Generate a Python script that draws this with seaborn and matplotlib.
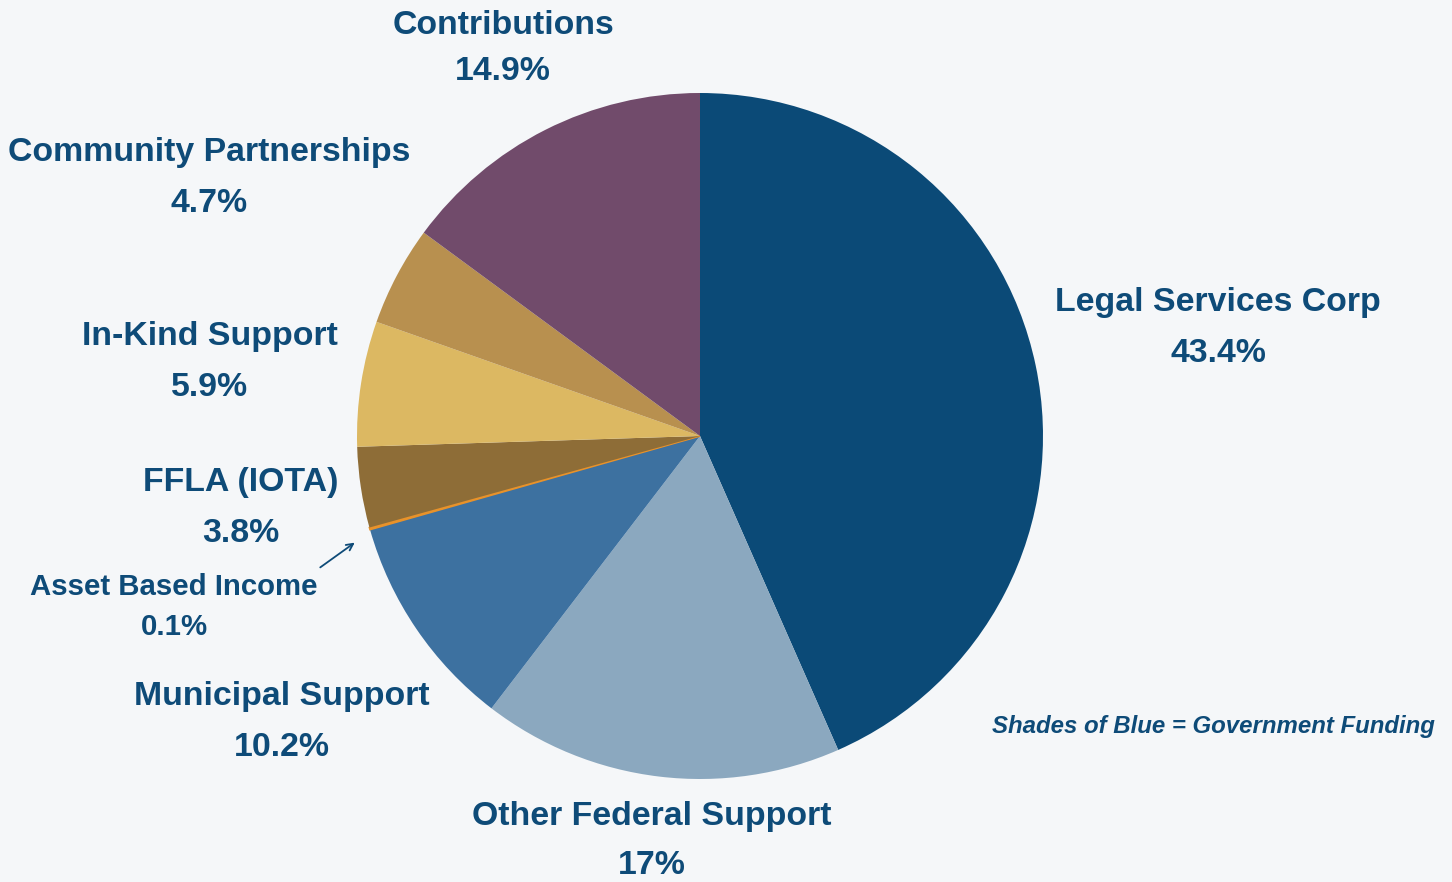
import matplotlib
matplotlib.use("Agg")
import matplotlib.pyplot as plt
import seaborn as sns

# data
labels = ["Legal Services Corp", "Other Federal Support", "Municipal Support",
          "Asset Based Income", "FFLA (IOTA)", "In-Kind Support",
          "Community Partnerships", "Contributions"]
shares = [43.4, 17.0, 10.2, 0.1, 3.8, 5.9, 4.7, 14.9]
pct_text = ["43.4%", "17%", "10.2%", "0.1%", "3.8%", "5.9%", "4.7%", "14.9%"]
colors = ["#0B4A77", "#8BA8BF", "#3D71A0", "#E8922A",
          "#8E6D37", "#DCB862", "#B8904F", "#714B6B"]

BG = "#F5F7F9"
INK = "#0E4B78"

sns.set_theme(style="white")
plt.rcParams["font.family"] = ["Liberation Sans", "DejaVu Sans"]

fig = plt.figure(figsize=(14.52, 8.82), dpi=100, facecolor=BG)
ax = fig.add_axes([0, 0, 1, 1])
ax.set_facecolor(BG)

wedges, _ = ax.pie(shares, colors=colors, startangle=90, counterclock=False,
                   center=(700, 446), radius=343, frame=True,
                   wedgeprops={"linewidth": 0})
# the tiny slice gets an outline so it reads as a visible sliver
wedges[3].set_edgecolor(colors[3])
wedges[3].set_linewidth(1.2)
ax.set_xlim(0, 1452)
ax.set_ylim(0, 882)
ax.set_aspect("equal")
ax.axis("off")

# label positions (pixel coords from top-left): x, name y, percent y, size
spots = {
    "Legal Services Corp": (1218, 303, 354, 24.4),
    "Other Federal Support": (652, 816, 866, 24.4),
    "Municipal Support": (282, 697, 748, 24.4),
    "Asset Based Income": (174, 587, 627, 21.2),
    "FFLA (IOTA)": (241, 483, 533, 24.4),
    "In-Kind Support": (210, 337, 388, 24.4),
    "Community Partnerships": (209, 152, 204, 24.4),
    "Contributions": (503, 26, 71, 24.4),
}
for name, pct in zip(labels, pct_text):
    x, y1, y2, fs = spots[name]
    ax.text(x, 882 - y1, name, ha="center", va="center", fontsize=fs,
            fontweight="bold", color=INK)
    ax.text(x, 882 - y2, pct, ha="center", va="center", fontsize=fs,
            fontweight="bold", color=INK)

ax.annotate("", xy=(357, 882 - 541), xytext=(318, 882 - 569),
            arrowprops={"arrowstyle": "->", "color": INK, "lw": 1.3})

ax.text(1435, 882 - 727, "Shades of Blue = Government Funding", ha="right",
        va="center", fontsize=17.3, fontweight="bold", fontstyle="italic",
        color=INK)

fig.savefig("out.png", dpi=100, facecolor=BG)
